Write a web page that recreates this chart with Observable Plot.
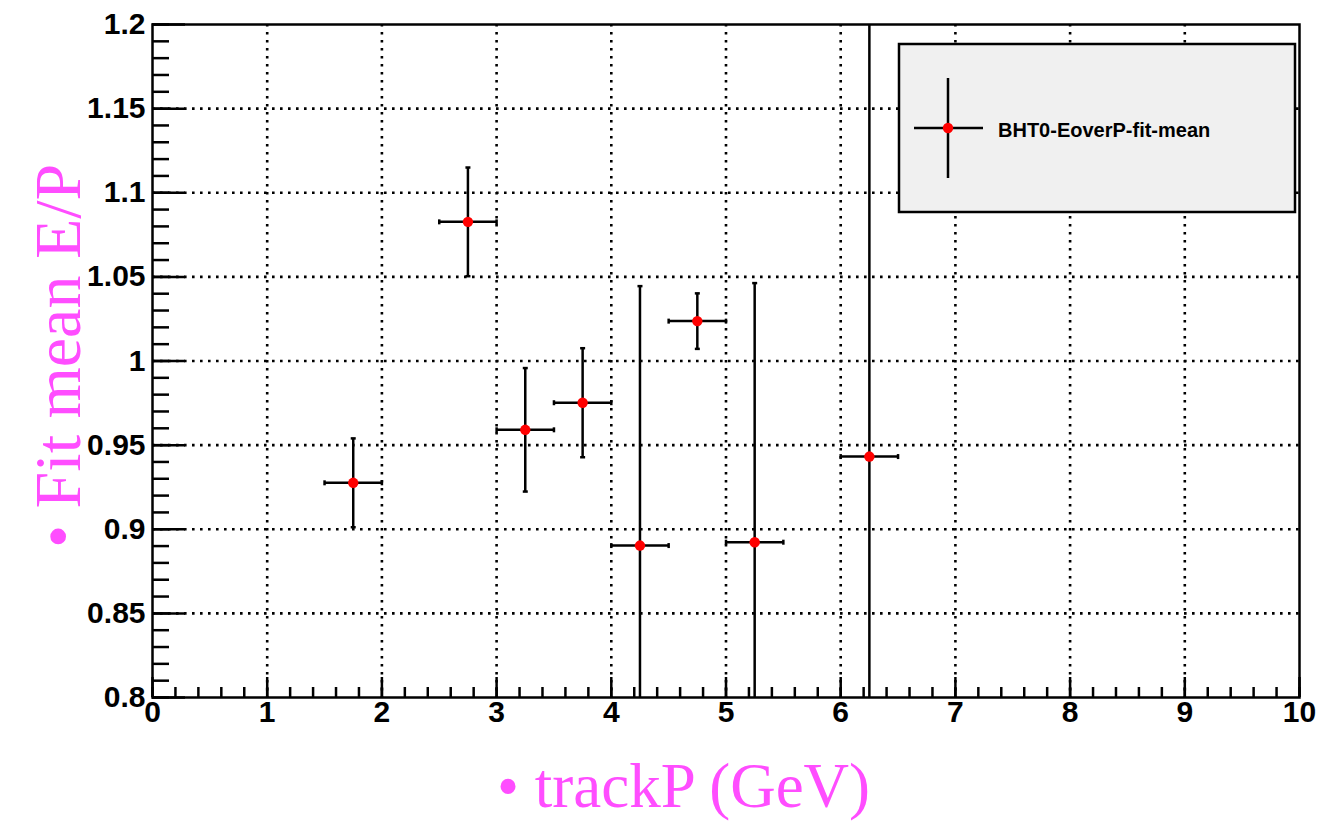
<!DOCTYPE html>
<html><head><meta charset="utf-8">
<script src="https://cdn.jsdelivr.net/npm/d3@7"></script>
<script src="https://cdn.jsdelivr.net/npm/@observablehq/plot@0.6"></script>
<style>body{margin:0;background:#fff} #chart{position:relative;width:1320px;height:825px}</style>
</head><body><div id="chart"></div>
<script>
const trackP = [1.75, 2.75, 3.25, 3.75, 4.25, 4.75, 5.25, 6.25];
const fitMean = [0.9276, 1.0827, 0.9591, 0.9752, 0.8903, 1.0237, 0.8923, 0.9432];
const fitMeanErr = [0.0264, 0.0323, 0.0367, 0.0324, 0.1542, 0.0165, 0.1540, 0.60];
const binHalfWidth = [0.25, 0.25, 0.25, 0.25, 0.25, 0.25, 0.25, 0.25];
const xTicks = [0, 1, 2, 3, 4, 5, 6, 7, 8, 9, 10];
const xTickLabels = ["0", "1", "2", "3", "4", "5", "6", "7", "8", "9", "10"];
const yTicks = [0.8, 0.85, 0.9, 0.95, 1, 1.05, 1.1, 1.15, 1.2];
const yTickLabels = ["0.8", "0.85", "0.9", "0.95", "1", "1.05", "1.1", "1.15", "1.2"];
const seriesName = "BHT0-EoverP-fit-mean";
const xLabel = "\u2022 trackP (GeV)";
const yLabel = "\u2022 Fit mean E/P";

const W = 1320, H = 825, mL = 152, mR = 21, mT = 24, mB = 128;
const pw = W - mL - mR, ph = H - mT - mB;
const data = trackP.map((x, i) => ({x, y: fitMean[i], ey: fitMeanErr[i], ex: binHalfWidth[i]}));
const xMinor = d3.range(0, 50.5, 1).map(v => +(v * 0.2).toFixed(2));
const yMinor = d3.range(0, 40.5, 1).map(v => +(0.8 + v * 0.01).toFixed(2));
const hCap = {draw(ctx) { ctx.moveTo(-2.5, 0); ctx.lineTo(2.5, 0); }};
const vCap = {draw(ctx) { ctx.moveTo(0, -2.5); ctx.lineTo(0, 2.5); }};
const dash = "2.6,5.4";
const blk = {stroke: "black", strokeWidth: 2.5};

const plot = Plot.plot({
  width: W, height: H, marginLeft: mL, marginRight: mR, marginTop: mT, marginBottom: mB,
  x: {domain: [0, 10]},
  y: {domain: [0.8, 1.2]},
  style: {fontFamily: "'Liberation Sans', Arial, Helvetica, sans-serif", background: "white", color: "black"},
  marks: [
    Plot.ruleX(xTicks.slice(1, -1), {x: d => d, stroke: "black", strokeWidth: 2.6, strokeDasharray: dash}),
    Plot.ruleY(yTicks.slice(1, -1), {y: d => d, stroke: "black", strokeWidth: 2.6, strokeDasharray: dash}),
    Plot.tickY(yMinor, {y: d => d, insetRight: pw - 17, ...blk}),
    Plot.tickY(yTicks, {y: d => d, insetRight: pw - 33, ...blk}),
    Plot.tickX(xMinor, {x: d => d, insetTop: ph - 10, ...blk}),
    Plot.tickX(xTicks, {x: d => d, insetTop: ph - 20, ...blk}),
    Plot.frame({...blk}),
    Plot.axisY(yTicks, {label: null, tickSize: 0, tickPadding: 7, fontSize: 30, fontWeight: "bold",
      tickFormat: d => yTickLabels[yTicks.indexOf(d)]}),
    Plot.axisX(xTicks, {label: null, tickSize: 0, tickPadding: 3, fontSize: 30, fontWeight: "bold",
      tickFormat: d => xTickLabels[xTicks.indexOf(d)]}),
    Plot.ruleX(data, {x: "x", y1: d => d.y - d.ey, y2: d => d.y + d.ey, ...blk, clip: true}),
    Plot.ruleY(data, {y: "y", x1: d => d.x - d.ex, x2: d => d.x + d.ex, ...blk, clip: true}),
    Plot.dot(data, {x: "x", y: d => d.y + d.ey, symbol: hCap, r: 3, ...blk, fill: "none", clip: true}),
    Plot.dot(data, {x: "x", y: d => d.y - d.ey, symbol: hCap, r: 3, ...blk, fill: "none", clip: true}),
    Plot.dot(data, {x: d => d.x - d.ex, y: "y", symbol: vCap, r: 3, ...blk, fill: "none", clip: true}),
    Plot.dot(data, {x: d => d.x + d.ex, y: "y", symbol: vCap, r: 3, ...blk, fill: "none", clip: true}),
    Plot.dot(data, {x: "x", y: "y", r: 5.2, fill: "red", stroke: "none"})
  ]
});
document.getElementById("chart").appendChild(plot);

const svg = d3.select(plot);
const g = svg.append("g").attr("text-anchor", "start");
g.append("rect").attr("x", 899).attr("y", 44).attr("width", 396).attr("height", 168)
  .attr("fill", "#f0f0f0").attr("stroke", "black").attr("stroke-width", 2.5);
g.append("line").attr("x1", 914).attr("x2", 983).attr("y1", 128).attr("y2", 128).attr("stroke", "black").attr("stroke-width", 2.5);
g.append("line").attr("x1", 948).attr("x2", 948).attr("y1", 78).attr("y2", 178).attr("stroke", "black").attr("stroke-width", 2.5);
g.append("circle").attr("cx", 948).attr("cy", 128).attr("r", 5.2).attr("fill", "red");
g.append("text").attr("x", 998).attr("y", 137).attr("text-anchor", "start").text(seriesName)
  .attr("font-family", "'Liberation Sans', Arial, sans-serif").attr("font-weight", "bold").attr("font-size", 20).attr("fill", "black");

svg.append("text").attr("x", 497).attr("y", 807).attr("text-anchor", "start").text(xLabel)
  .attr("font-family", "'Liberation Serif', 'Times New Roman', serif").attr("font-size", 63).attr("fill", "#ff4dff");
svg.append("text").attr("transform", "translate(80,548) rotate(-90)").attr("text-anchor", "start").text(yLabel)
  .attr("font-family", "'Liberation Serif', 'Times New Roman', serif").attr("font-size", 66).attr("fill", "#ff4dff");
</script>
</body></html>
